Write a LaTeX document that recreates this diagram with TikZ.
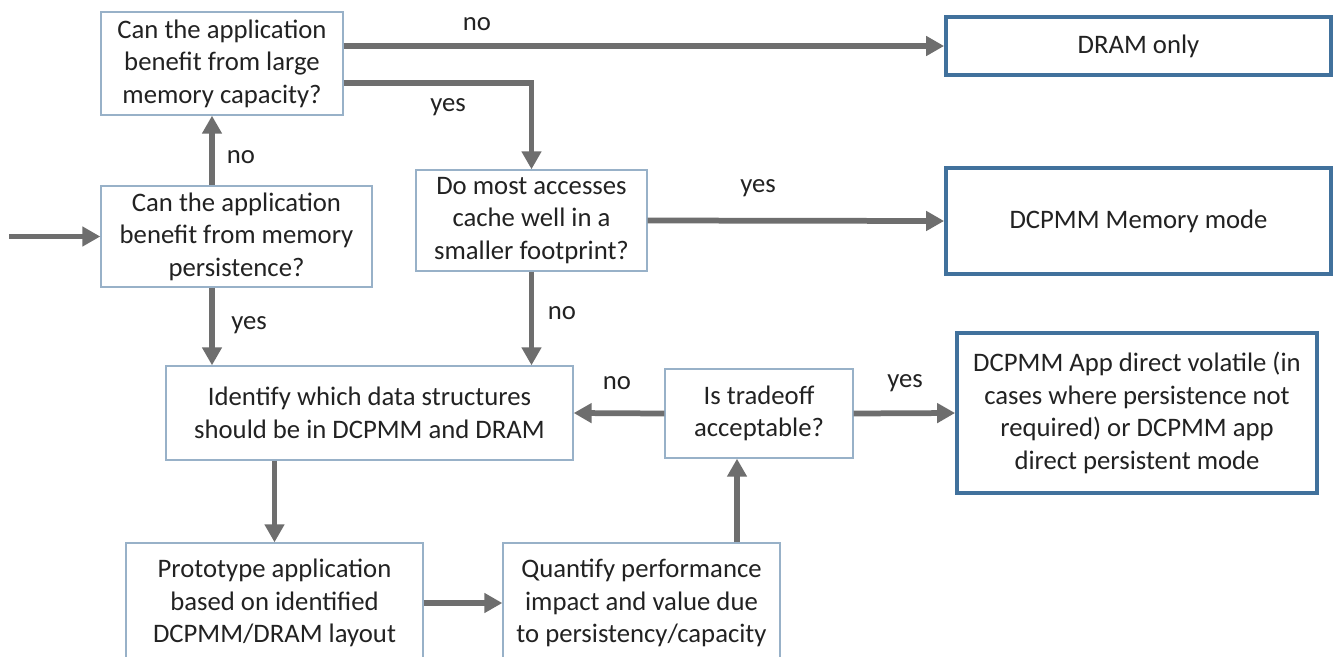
\documentclass[tikz,border=0pt]{standalone}
\usepackage{fontspec}
\setmainfont{Carlito}
\usetikzlibrary{arrows.meta}
\definecolor{arrgray}{HTML}{6E6E6E}
\definecolor{thinblue}{HTML}{98B1C8}
\definecolor{thickblue}{HTML}{41719C}
\definecolor{txt}{HTML}{222222}
\tikzset{
  base/.style={rectangle, inner sep=0pt, align=center, text=txt,
    font=\fontsize{15.2}{18.5}\selectfont},
  thinbox/.style={base, draw=thinblue, line width=0.8pt},
  thickbox/.style={base, draw=thickblue, line width=2.2pt},
  arr/.style={draw=arrgray, line width=0.115cm,
    -{Triangle[length=0.36cm, width=0.38cm]}},
  lbl/.style={text=txt, inner sep=0pt, font=\fontsize{15.2}{18.5}\selectfont}
}
\begin{document}
\begin{tikzpicture}[x=0.02cm, y=-0.02cm]
\clip (0,0) rectangle (1338,656);
\fill[white] (0,0) rectangle (1338,656);

% boxes
\node[thinbox, minimum width=4.84cm, minimum height=2.06cm] (A) at (222,63.5)
  {Can the application\\benefit from large\\memory capacity?};
\node[thinbox, minimum width=5.42cm, minimum height=2.02cm] (B) at (236.5,236.5)
  {Can the application\\benefit from memory\\persistence?};
\node[thinbox, minimum width=4.62cm, minimum height=2.02cm] (C) at (531.5,220.5)
  {Do most accesses\\cache well in a\\smaller footprint?};
\node[thickbox, minimum width=7.70cm, minimum height=1.16cm] (D) at (1138.5,46)
  {DRAM only};
\node[thickbox, minimum width=7.70cm, minimum height=2.12cm] (E) at (1138.5,221)
  {DCPMM Memory mode};
\node[thinbox, minimum width=8.14cm, minimum height=1.88cm] (F) at (369.5,413)
  {Identify which data structures\\should be in DCPMM and DRAM};
\node[thinbox, minimum width=3.76cm, minimum height=1.78cm] (G) at (759,413.5)
  {Is tradeoff\\acceptable?};
\node[thickbox, minimum width=7.20cm, minimum height=3.20cm] (H) at (1137,413)
  {DCPMM App direct volatile (in\\cases where persistence not\\required) or DCPMM app\\direct persistent mode};
\node[thinbox, minimum width=5.94cm, minimum height=2.40cm] (I) at (274.5,603)
  {Prototype application\\based on identified\\DCPMM/DRAM layout};
\node[thinbox, minimum width=5.54cm, minimum height=2.40cm] (J) at (641.5,603)
  {Quantify performance\\impact and value due\\to persistency/capacity};

% helper coordinates
\coordinate (start) at (9,236.5);
\coordinate (xa) at (212,0);
\coordinate (ya) at (0,83);
\coordinate (xg) at (737,0);

% connectors
\draw[arr] (start) -- (B.west);
\draw[arr] (B.north -| xa) -- (A.south -| xa);
\draw[arr] (A.east |- D.west) -- (D.west);
\draw[arr] (A.east |- ya) -| (C.north);
\draw[arr] (C.east) -- (E.west);
\draw[arr] (C.south) -- (C.south |- F.north);
\draw[arr] (B.south -| xa) -- (F.north -| xa);
\draw[arr] (G.west) -- (F.east);
\draw[arr] (G.east) -- (H.west);
\draw[arr] (F.south -| I.north) -- (I.north);
\draw[arr] (I.east) -- (J.west);
\draw[arr] (J.north -| xg) -- (G.south -| xg);

% labels
\node[lbl] (l1) at (477,24) {no};
\node[lbl] (l2) at (448,107) {yes};
\node[lbl] (l3) at (241,157) {no};
\node[lbl] (l4) at (758,188) {yes};
\node[lbl] (l5) at (562,313) {no};
\node[lbl] (l6) at (249,325) {yes};
\node[lbl] (l7) at (617,383) {no};
\node[lbl] (l8) at (905,383) {yes};
\end{tikzpicture}
\end{document}
